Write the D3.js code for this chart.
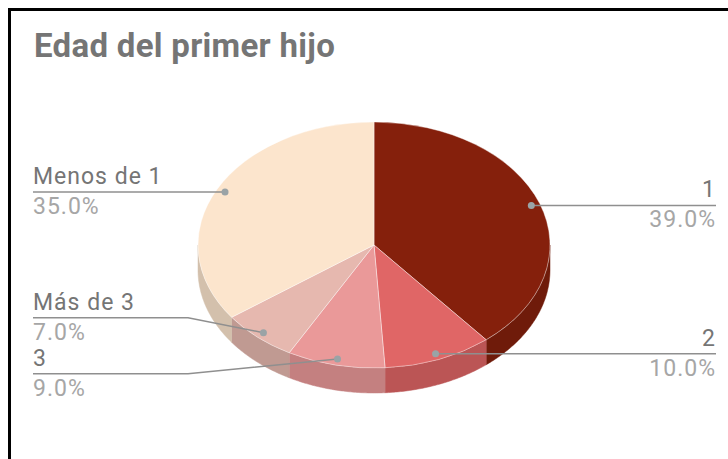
<!DOCTYPE html>
<html>
<head>
<meta charset="utf-8">
<script src="https://cdn.jsdelivr.net/npm/d3@7"></script>
<style>
  body { margin: 0; background: #fff; }
  svg { display: block; font-family: Roboto, "Noto Sans", sans-serif; }
</style>
</head>
<body>
<div id="container"></div>
<script>
// chart data
var categories = ["1", "2", "3", "Más de 3", "Menos de 1"];
var values = [39.0, 10.0, 9.0, 7.0, 35.0];
var colors = ["#85200c", "#e06666", "#ea9999", "#e6b8af", "#fce5cd"];
var title = "Edad del primer hijo";

var width = 728, height = 459;
var cx = 374, cy = 245, rx = 176, ry = 123, depth = 25;

var svg = d3.select("#container")
  .append("svg")
    .attr("width", width)
    .attr("height", height);

svg.append("rect")
  .attr("width", width).attr("height", height)
  .attr("fill", "#fff");

// frame of the screenshot
svg.append("rect")
  .attr("x", 9.5).attr("y", 9.5)
  .attr("width", 900).attr("height", 700)
  .attr("fill", "none")
  .attr("stroke", "#000")
  .attr("stroke-width", 3);

svg.append("text")
  .attr("x", 34).attr("y", 57)
  .attr("fill", "#757575")
  .attr("font-size", 33)
  .attr("font-weight", "bold")
  .attr("letter-spacing", 0.3)
  .text(title);

var rows = categories.map((c, i) => ({name: c, value: values[i], color: colors[i]}));
var total = d3.sum(values);

var arcs = d3.pie()
  .sort(null)
  .value(d => d.value)
  .startAngle(0)
  .endAngle(2 * Math.PI)(rows);

function px(a, k) { return cx + Math.sin(a) * rx * k; }
function py(a, k) { return cy - Math.cos(a) * ry * k; }

// side walls (front half only)
var line = d3.line();
var sides = svg.append("g");
arcs.forEach(d => {
  var s = Math.max(d.startAngle, Math.PI / 2);
  var e = Math.min(d.endAngle, 3 * Math.PI / 2);
  if (e <= s) return;
  var n = Math.max(2, Math.ceil((e - s) / 0.01));
  var top = d3.range(n + 1).map(i => s + (e - s) * i / n);
  var pts = top.map(a => [px(a, 1), py(a, 1)])
    .concat(top.slice().reverse().map(a => [px(a, 1), py(a, 1) + depth]));
  sides.append("path")
    .attr("d", line(pts) + "Z")
    .attr("fill", d3.rgb(d.data.color).darker(0.5))
    .attr("stroke", d3.rgb(d.data.color).darker(0.5))
    .attr("stroke-width", 0.5);
});

// top faces
var arc = d3.arc().innerRadius(0).outerRadius(rx);
svg.append("g")
    .attr("transform", "translate(" + cx + "," + cy + ") scale(1," + (ry / rx) + ")")
  .selectAll("path")
  .data(arcs)
  .join("path")
    .attr("d", arc)
    .attr("fill", d => d.data.color)
    .attr("stroke", "#fff")
    .attr("stroke-opacity", 0.5)
    .attr("stroke-width", 0.8)
    .attr("vector-effect", "non-scaling-stroke");

// labels with leader lines
var labels = arcs.map(d => {
  var mid = (d.startAngle + d.endAngle) / 2;
  return {
    d: d,
    side: Math.sin(mid) >= 0 ? "right" : "left",
    dx: px(mid, 0.95),
    dy: py(mid, 0.95)
  };
});

var gap = 56;
["left", "right"].forEach(side => {
  var list = labels.filter(l => l.side == side).sort((a, b) => a.dy - b.dy);
  var groups = list.map(l => ({items: [l], mean: l.dy}));
  var merged = true;
  while (merged) {
    merged = false;
    for (var i = 1; i < groups.length; i++) {
      var a = groups[i - 1], b = groups[i];
      var aBottom = a.mean + (a.items.length - 1) * gap / 2;
      var bTop = b.mean - (b.items.length - 1) * gap / 2;
      if (bTop - aBottom < gap) {
        var items = a.items.concat(b.items);
        groups.splice(i - 1, 2, {items: items, mean: d3.mean(items, t => t.dy)});
        merged = true;
        break;
      }
    }
  }
  groups.forEach(g => {
    g.items.forEach((l, k) => {
      l.ly = g.mean + (k - (g.items.length - 1) / 2) * gap;
    });
  });
});

var lab = svg.append("g");
labels.forEach(l => {
  var left = l.side == "left";
  var xEnd = left ? 33 : 716;
  var bend = left ? Math.min(l.dx, 188) : Math.max(l.dx, 560);
  var path = d3.path();
  path.moveTo(xEnd, l.ly);
  path.lineTo(bend, l.ly);
  path.lineTo(l.dx, l.dy);
  lab.append("path")
    .attr("d", path.toString())
    .attr("fill", "none")
    .attr("stroke", "#8f8f8f")
    .attr("stroke-width", 1.5);
  lab.append("circle")
    .attr("cx", l.dx).attr("cy", l.dy).attr("r", 3.5)
    .attr("fill", "#9aa3a6");
  lab.append("text")
    .attr("x", xEnd).attr("y", l.ly - 8)
    .attr("text-anchor", left ? "start" : "end")
    .attr("font-size", 23)
    .attr("letter-spacing", 1)
    .attr("fill", "#757575")
    .text(l.d.data.name);
  lab.append("text")
    .attr("x", xEnd).attr("y", l.ly + 22)
    .attr("text-anchor", left ? "start" : "end")
    .attr("font-size", 23)
    .attr("letter-spacing", 1)
    .attr("fill", "#a6a6a6")
    .text(d3.format(".1f")(l.d.data.value / total * 100) + "%");
});
</script>
</body>
</html>
